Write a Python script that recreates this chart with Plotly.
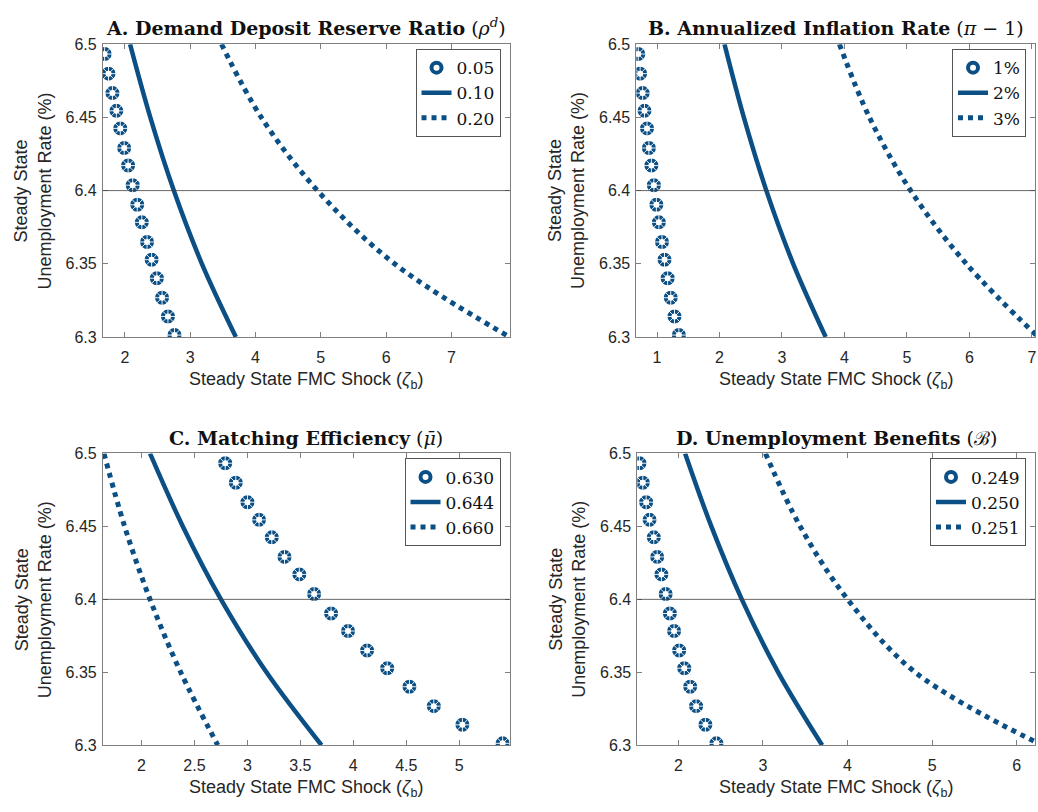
import plotly.graph_objects as go

BLUE = "#0b4f84"
AXIS_GRAY = "#7f7f7f"
TEXT_GRAY = "#262626"
REF_LEVEL = 6.4

# ---- data -------------------------------------------------------------
# unemployment rates (%) at which the smooth curves are evaluated
u_line = [6.50, 6.45, 6.40, 6.35, 6.30]
# unemployment rates (%) of the marker series
u_mark = [6.4933, 6.4799, 6.4666, 6.4545, 6.4425, 6.4291, 6.4171, 6.4037,
          6.3903, 6.3783, 6.3649, 6.3528, 6.3401, 6.3268, 6.3140, 6.3013]

# baseline calibration (shared by all panels)
zeta_base = [2.08, 2.39, 2.75, 3.18, 3.70]

# A. demand deposit reserve ratio
zeta_a_low = [1.69, 1.75, 1.81, 1.87, 1.93, 1.99, 2.05, 2.12,
              2.19, 2.26, 2.34, 2.41, 2.49, 2.57, 2.66, 2.76]
zeta_a_high = [3.48, 4.09, 4.95, 6.13, 7.89]
labels_a = ["0.05", "0.10", "0.20"]

# B. annualized inflation rate
zeta_b_low = [0.70, 0.73, 0.77, 0.80, 0.84, 0.87, 0.91, 0.95,
              0.99, 1.03, 1.08, 1.12, 1.17, 1.22, 1.28, 1.35]
zeta_b_high = [3.92, 4.40, 5.06, 5.95, 7.10]
labels_b = ["1%", "2%", "3%"]

# C. matching efficiency
zeta_c_low = [2.79, 2.89, 3.00, 3.11, 3.23, 3.35, 3.49, 3.63,
              3.79, 3.95, 4.13, 4.32, 4.53, 4.76, 5.03, 5.41]
zeta_c_high = [1.645, 1.84, 2.08, 2.37, 2.72]
labels_c = ["0.630", "0.644", "0.660"]

# D. unemployment benefits
zeta_d_low = [1.54, 1.58, 1.62, 1.66, 1.71, 1.75, 1.80, 1.85,
              1.90, 1.95, 2.01, 2.07, 2.14, 2.21, 2.32, 2.45]
zeta_d_high = [3.03, 3.44, 4.00, 4.80, 6.30]
labels_d = ["0.249", "0.250", "0.251"]

titles = [
    "<b>A. Demand Deposit Reserve Ratio</b> (<i>ρ</i><sup><i>d</i></sup>)",
    "<b>B. Annualized Inflation Rate</b> (<i>π</i> − 1)",
    "<b>C. Matching Efficiency</b> (<i>μ̄</i>)",
    "<b>D. Unemployment Benefits</b> (ℬ)",
]
x_ranges = [[1.664, 7.89], [0.67, 7.05], [1.635, 5.475], [1.516, 6.215]]
x_ticks = [[2, 3, 4, 5, 6, 7], [1, 2, 3, 4, 5, 6, 7],
           [2, 2.5, 3, 3.5, 4, 4.5, 5], [2, 3, 4, 5, 6]]
y_ticks = [6.3, 6.35, 6.4, 6.45, 6.5]
y_ticktext = ["6.3", "6.35", "6.4", "6.45", "6.5"]

panels = [
    (zeta_a_low, zeta_a_high, labels_a),
    (zeta_b_low, zeta_b_high, labels_b),
    (zeta_c_low, zeta_c_high, labels_c),
    (zeta_d_low, zeta_d_high, labels_d),
]

# ---- layout geometry (pixels of the 1038x812 canvas) -------------------
W, H = 1038, 812
px_x = [(103, 510), (637, 1036), (103, 510), (638, 1036)]
px_y = [(37, 336), (37, 336), (455, 753), (455, 753)]

SERIF = "DejaVu Serif"
SANS = "Liberation Sans"

fig = go.Figure()
layout = dict(
    width=W, height=H, margin=dict(l=0, r=0, t=0, b=0),
    plot_bgcolor="white", paper_bgcolor="white", showlegend=True,
    annotations=[], shapes=[],
)

for i, (low, high, labels) in enumerate(panels):
    k = "" if i == 0 else str(i + 1)
    xa, ya = "x" + k, "y" + k
    leg = "legend" + k
    x0, x1 = px_x[i]
    y0, y1 = px_y[i]
    dom_x = [x0 / W, x1 / W]
    dom_y = [1 - y1 / H, 1 - y0 / H]

    # low-value series: gear-like ring markers
    fig.add_trace(go.Scatter(
        x=low, y=u_mark, xaxis=xa, yaxis=ya, mode="markers", name=labels[0],
        legend=leg,
        marker=dict(symbol="circle-open", size=10,
                    line=dict(width=4, color=BLUE), color=BLUE),
    ))
    fig.add_trace(go.Scatter(
        x=low, y=u_mark, xaxis=xa, yaxis=ya, mode="markers", showlegend=False,
        hoverinfo="skip",
        marker=dict(symbol="asterisk-open", size=16, color="white",
                    line=dict(width=0.9, color="white")),
    ))
    # baseline: solid line
    fig.add_trace(go.Scatter(
        x=zeta_base, y=u_line, xaxis=xa, yaxis=ya, mode="lines",
        name=labels[1], legend=leg, line=dict(color=BLUE, width=4.5, shape="spline"),
    ))
    # high-value series: dotted line
    fig.add_trace(go.Scatter(
        x=high, y=u_line, xaxis=xa, yaxis=ya, mode="lines",
        name=labels[2], legend=leg,
        line=dict(color=BLUE, width=5, dash="5px,5px", shape="spline"),
    ))

    axis_common = dict(
        showline=True, linecolor=AXIS_GRAY, linewidth=1, mirror="ticks",
        ticks="inside", ticklen=5, tickcolor=AXIS_GRAY, showgrid=False,
        zeroline=False, tickfont=dict(family=SANS, size=16, color=TEXT_GRAY),
    )
    layout["xaxis" + k] = dict(
        axis_common, domain=dom_x, range=x_ranges[i], tickvals=x_ticks[i],
        anchor=ya, ticklabelstandoff=6,
    )
    layout["yaxis" + k] = dict(
        axis_common, domain=dom_y, range=[6.3, 6.5], tickvals=y_ticks,
        ticktext=y_ticktext, anchor=xa, ticklabelstandoff=2,
    )

    # reference level
    layout["shapes"].append(dict(
        type="line", xref=xa + " domain", yref=ya, x0=0, x1=1,
        y0=REF_LEVEL, y1=REF_LEVEL, line=dict(color="#404040", width=0.8),
    ))

    # legend box in the top-right corner of each panel
    layout[leg] = dict(
        x=(x1 - 9) / W, y=1 - (y0 + 5) / H, xanchor="right", yanchor="top",
        bgcolor="white", bordercolor="#555555", borderwidth=1,
        font=dict(family=SERIF, size=17, color="#111111"),
        tracegroupgap=0, itemwidth=30,
    )

    cx = (x0 + x1) / 2
    # panel title
    layout["annotations"].append(dict(
        text=titles[i], xref="paper", yref="paper", x=cx / W,
        y=1 - (y0 - 3) / H, xanchor="center", yanchor="bottom", showarrow=False,
        font=dict(family=SERIF, size=19, color="#111111"),
    ))
    # x-axis title
    layout["annotations"].append(dict(
        text="Steady State FMC Shock (<i>ζ</i><sub>b</sub>)", xref="paper",
        yref="paper", x=cx / W, y=1 - (y1 + 44) / H, xanchor="center",
        yanchor="middle", showarrow=False,
        font=dict(family=SANS, size=18, color=TEXT_GRAY),
    ))
    # y-axis title
    layout["annotations"].append(dict(
        text="Steady State<br>Unemployment Rate (%)", xref="paper",
        yref="paper", x=(x0 - 70) / W, y=1 - ((y0 + y1) / 2) / H,
        xanchor="center", yanchor="middle", textangle=-90, showarrow=False,
        font=dict(family=SANS, size=18, color=TEXT_GRAY),
    ))

fig.update_layout(**layout)
fig.write_html("out.html")
